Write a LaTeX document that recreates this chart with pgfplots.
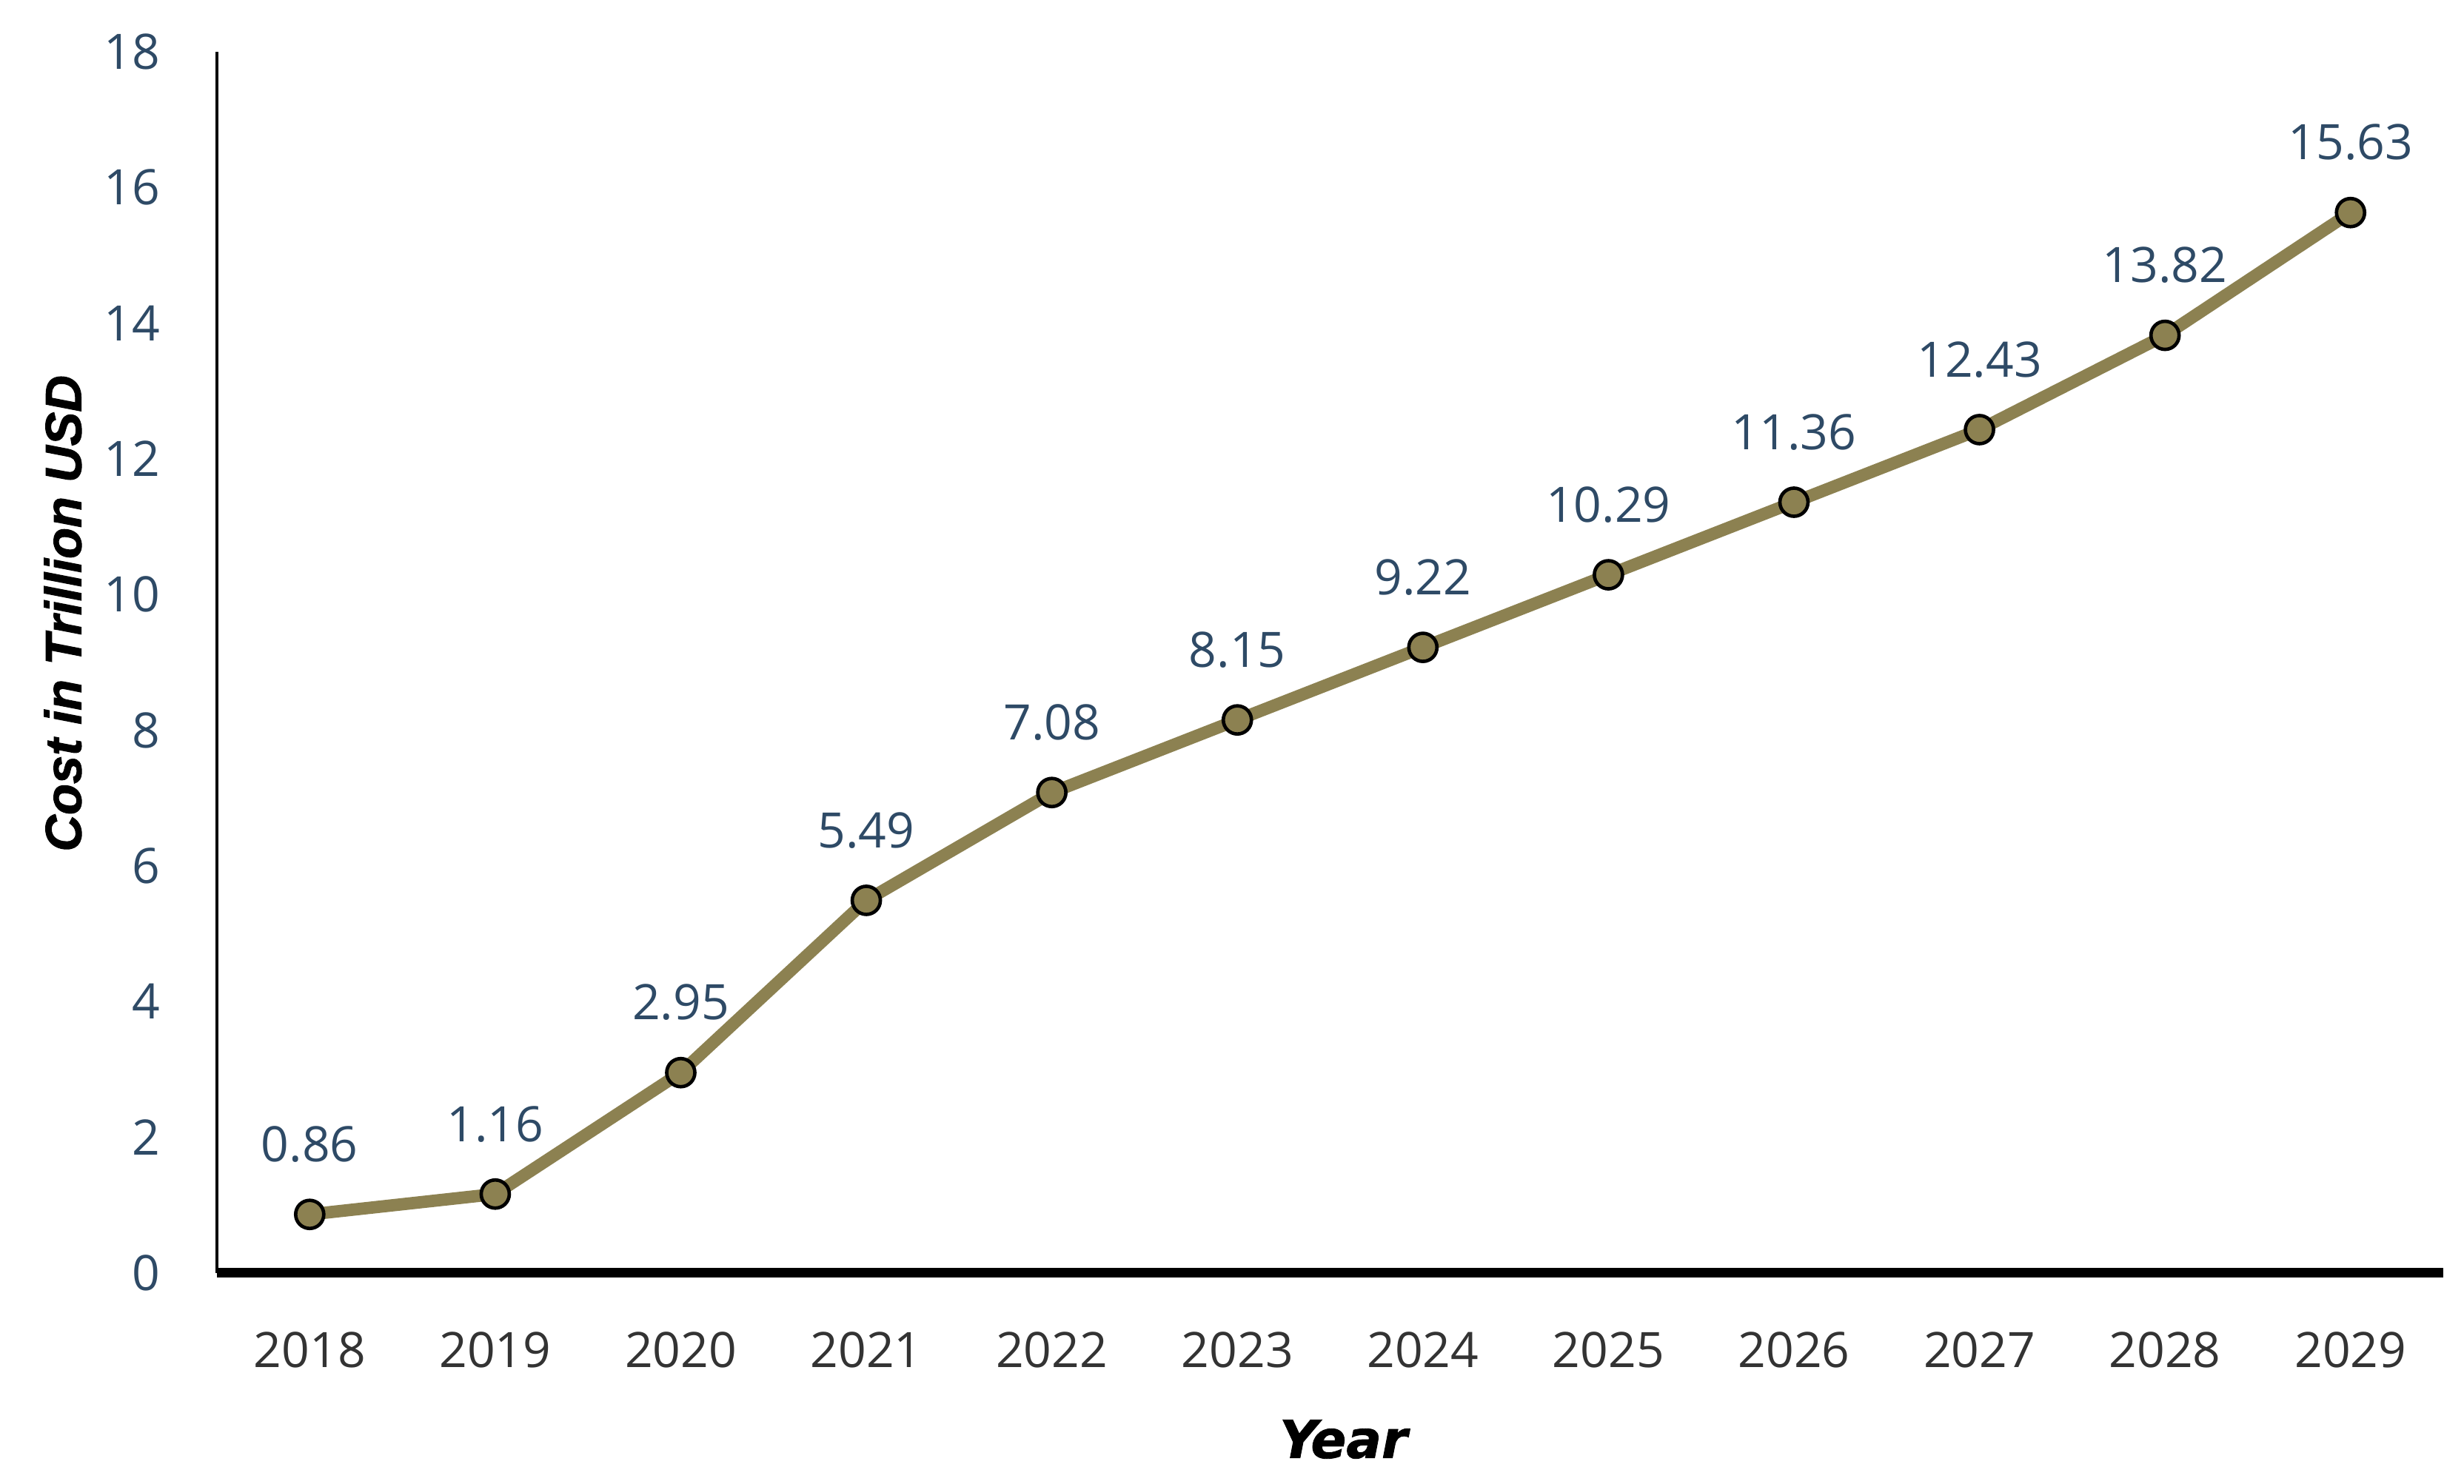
\documentclass[border=0pt]{standalone}
\usepackage{pgfplots}
\pgfplotsset{compat=1.18}
\usepackage{fontspec}
\setmainfont{Open Sans}
\newfontfamily\labfont[BoldItalicFeatures={FakeBold=1.5}]{Liberation Sans}
\newfontfamily\yearfont[BoldItalicFeatures={FakeBold=1.2}]{DejaVu Sans}
\definecolor{lineol}{HTML}{8C8151}
\definecolor{numblue}{HTML}{2E4A66}
\definecolor{xgray}{HTML}{333333}
\begin{document}
\begin{tikzpicture}
\begin{axis}[
  scale only axis,
  width=451pt, height=247.4pt,
  xmin=2017.5, xmax=2029.5, ymin=0, ymax=18,
  axis x line=bottom, axis y line=left,
  x axis line style={-, line width=2pt, black},
  y axis line style={-, line width=0.7pt, black},
  xtick={2018,2019,2020,2021,2022,2023,2024,2025,2026,2027,2028,2029},
  xticklabels={2018,2019,2020,2021,2022,2023,2024,2025,2026,2027,2028,2029},
  ytick={0,2,4,6,8,10,12,14,16,18},
  yticklabels={0,2,4,6,8,10,12,14,16,18},
  major tick length=0pt,
  xticklabel style={text=xgray, font=\fontsize{9.9}{12}\selectfont, yshift=-8.5pt},
  yticklabel style={text=numblue, font=\fontsize{9.9}{12}\selectfont, xshift=-8pt},
  xlabel={\yearfont\bfseries\itshape Year},
  ylabel={\labfont\bfseries\itshape Cost in Trillion USD},
  xlabel style={at={(axis description cs:0.506,-0.1364)}, anchor=center, font=\fontsize{10.6}{12}\selectfont},
  ylabel style={at={(axis description cs:-0.0692,0.54)}, anchor=center, font=\fontsize{10.3}{12}\selectfont},
  clip=false,
  nodes near coords,
  point meta=explicit symbolic,
  nodes near coords style={font=\fontsize{9.9}{12}\selectfont, text=numblue, anchor=center, yshift=14.2pt},
]
\addplot[lineol, line width=2.5pt, mark=*, mark size=2.85pt,
  mark options={fill=lineol, draw=black, line width=0.7pt}]
  table[x=x, y=y, meta=v] {
x y v
2018 0.86 0.86
2019 1.16 1.16
2020 2.95 2.95
2021 5.49 5.49
2022 7.08 7.08
2023 8.15 8.15
2024 9.22 9.22
2025 10.29 10.29
2026 11.36 11.36
2027 12.43 12.43
2028 13.82 13.82
2029 15.63 15.63
};
\coordinate (O) at (rel axis cs:0,0);
\coordinate (T) at (rel axis cs:1,1);
\end{axis}
\pgfresetboundingbox
\path ([shift={(-43.95pt,-42.75pt)}]O) rectangle ([shift={(4.2pt,10.5pt)}]T);
\end{tikzpicture}
\end{document}
